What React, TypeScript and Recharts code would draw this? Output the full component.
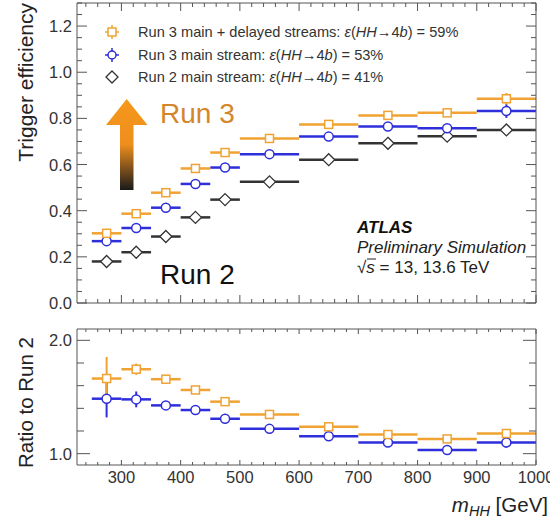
import React from 'react';
import { ComposedChart, Scatter, XAxis, YAxis, ErrorBar } from 'recharts';

// m_HH bins [GeV]
const binCenters = [275, 325, 375, 425, 475, 550, 650, 750, 850, 950];
const binHalfWidths = [25, 25, 25, 25, 25, 50, 50, 50, 50, 50];

// trigger efficiency
const effRun3Delayed = [0.302, 0.387, 0.478, 0.583, 0.652, 0.713, 0.774, 0.813, 0.824, 0.885];
const effRun3DelayedErr = [0.008, 0.008, 0.008, 0.008, 0.008, 0.008, 0.008, 0.01, 0.012, 0.025];
const effRun3Main = [0.268, 0.325, 0.413, 0.516, 0.587, 0.645, 0.721, 0.765, 0.757, 0.832];
const effRun3MainErr = [0.008, 0.008, 0.008, 0.008, 0.008, 0.008, 0.008, 0.01, 0.018, 0.03];
const effRun2Main = [0.18, 0.22, 0.288, 0.371, 0.448, 0.525, 0.621, 0.692, 0.723, 0.75];
const effRun2MainErr = [0.006, 0.006, 0.006, 0.006, 0.006, 0.006, 0.006, 0.008, 0.01, 0.012];

// ratio to Run 2
const ratioRun3Delayed = [1.663, 1.745, 1.657, 1.562, 1.459, 1.346, 1.237, 1.169, 1.13, 1.178];
const ratioRun3DelayedErr = [0.19, 0.05, 0.02, 0.015, 0.015, 0.012, 0.012, 0.015, 0.02, 0.03];
const ratioRun3Main = [1.485, 1.479, 1.426, 1.385, 1.308, 1.219, 1.154, 1.098, 1.033, 1.098];
const ratioRun3MainErr = [0.165, 0.07, 0.02, 0.015, 0.015, 0.012, 0.012, 0.015, 0.02, 0.045];

// axis ticks
const xMajor = [300, 400, 500, 600, 700, 800, 900, 1000];
const xTicks = [240, 260, 280, 300, 320, 340, 360, 380, 400, 420, 440, 460, 480, 500, 520, 540, 560, 580, 600,
  620, 640, 660, 680, 700, 720, 740, 760, 780, 800, 820, 840, 860, 880, 900, 920, 940, 960, 980, 1000];
const effMajor = [0, 0.2, 0.4, 0.6, 0.8, 1.0, 1.2];
const effTicks = [0, 0.05, 0.1, 0.15, 0.2, 0.25, 0.3, 0.35, 0.4, 0.45, 0.5, 0.55, 0.6, 0.65, 0.7, 0.75,
  0.8, 0.85, 0.9, 0.95, 1.0, 1.05, 1.1, 1.15, 1.2, 1.25, 1.3];
const ratioMajor = [1.0, 2.0];
const ratioTicks = [1.0, 1.2, 1.4, 1.6, 1.8, 2.0];

const ORANGE = '#F0A232';
const BLUE = '#2E2EDB';
const BLACK = '#333333';
const FRAME = '#555555';
const FONT = '"Liberation Sans", Arial, Helvetica, sans-serif';

const toPoints = (ys: number[], errs: number[]) =>
  binCenters.map((x, i) => ({ x, y: ys[i], xerr: binHalfWidths[i], yerr: errs[i] }));

const SquareMark = (p: any) => (
  <rect x={p.cx - 4} y={p.cy - 4} width={8} height={8} fill="#fff" stroke={ORANGE} strokeWidth={1.5} />
);
const CircleMark = (p: any) => (
  <circle cx={p.cx} cy={p.cy} r={4.5} fill="#fff" stroke={BLUE} strokeWidth={1.5} />
);
const DiamondMark = (p: any) => (
  <polygon
    points={`${p.cx},${p.cy - 6} ${p.cx + 6},${p.cy} ${p.cx},${p.cy + 6} ${p.cx - 6},${p.cy}`}
    fill="#fff" stroke={BLACK} strokeWidth={1.3}
  />
);

// ROOT style ticks: drawn inside the frame, labels outside
const makeTick = (side: string, majors: number[], majorLen: number, minorLen: number, withLabel: boolean) =>
  (props: any) => {
    const { x, y, payload } = props;
    const v = payload.value;
    const major = majors.includes(v);
    const len = major ? majorLen : minorLen;
    let line = null;
    let label = null;
    if (side === 'left') {
      line = <line x1={x} y1={y} x2={x + len} y2={y} stroke={FRAME} />;
      if (major && withLabel)
        label = <text x={x - 5} y={y + 6} textAnchor="end" fontSize={16.5} fill="#333" fontFamily={FONT}>{v.toFixed(1)}</text>;
    } else if (side === 'right') {
      line = <line x1={x} y1={y} x2={x - len} y2={y} stroke={FRAME} />;
    } else if (side === 'top') {
      line = <line x1={x} y1={y} x2={x} y2={y + len} stroke={FRAME} />;
    } else {
      line = <line x1={x} y1={y} x2={x} y2={y - len} stroke={FRAME} />;
      if (major && withLabel)
        label = <text x={x} y={y + 18} textAnchor="middle" fontSize={16.5} fill="#333" fontFamily={FONT}>{v}</text>;
    }
    return <g>{line}{label}</g>;
  };

const Series = (pts: any[], color: string, shape: any, key: string) => (
  <Scatter key={key} data={pts} dataKey="y" xAxisId="b" yAxisId="l" shape={shape} isAnimationActive={false}>
    <ErrorBar dataKey="xerr" direction="x" width={0} stroke={color} strokeWidth={2.5} isAnimationActive={false} />
    <ErrorBar dataKey="yerr" direction="y" width={0} stroke={color} strokeWidth={2} isAnimationActive={false} />
  </Scatter>
);

const Axes = (domainY: number[], yTicks: number[], yMajor: number[], yMaj: number, yMin: number,
  xMaj: number, xMin: number, xLabels: boolean, bottomH: number) => [
  <XAxis key="xb" xAxisId="b" type="number" dataKey="x" domain={[225, 1000]} allowDataOverflow ticks={xTicks}
    interval={0} orientation="bottom" height={bottomH} tickSize={0} tickMargin={0} tickLine={false}
    axisLine={{ stroke: FRAME }} tick={makeTick('bottom', xMajor, xMaj, xMin, xLabels)} />,
  <XAxis key="xt" xAxisId="t" type="number" dataKey="x" domain={[225, 1000]} allowDataOverflow ticks={xTicks}
    interval={0} orientation="top" height={1} tickSize={0} tickMargin={0} tickLine={false}
    axisLine={{ stroke: FRAME }} tick={makeTick('top', xMajor, xMaj, xMin, false)} />,
  <YAxis key="yl" yAxisId="l" type="number" domain={domainY} allowDataOverflow ticks={yTicks} interval={0}
    orientation="left" width={77} tickSize={0} tickMargin={0} tickLine={false}
    axisLine={{ stroke: FRAME }} tick={makeTick('left', yMajor, yMaj, yMin, true)} />,
  <YAxis key="yr" yAxisId="r" type="number" domain={domainY} allowDataOverflow ticks={yTicks} interval={0}
    orientation="right" width={1} tickSize={0} tickMargin={0} tickLine={false}
    axisLine={{ stroke: FRAME }} tick={makeTick('right', yMajor, yMaj, yMin, false)} />,
];

const LegendMark = ({ y, kind }: { y: number; kind: string }) => {
  const cx = 112;
  if (kind === 'sq')
    return (
      <g stroke={ORANGE} strokeWidth={1.5}>
        <line x1={cx - 7} y1={y} x2={cx + 7} y2={y} />
        <line x1={cx} y1={y - 7} x2={cx} y2={y + 7} />
        <rect x={cx - 4} y={y - 4} width={8} height={8} fill="#fff" />
      </g>
    );
  if (kind === 'ci')
    return (
      <g stroke={BLUE} strokeWidth={1.5}>
        <line x1={cx - 7} y1={y} x2={cx + 7} y2={y} />
        <line x1={cx} y1={y - 7} x2={cx} y2={y + 7} />
        <circle cx={cx} cy={y} r={4} fill="#fff" />
      </g>
    );
  return (
    <polygon points={`${cx},${y - 6} ${cx + 6},${y} ${cx},${y + 6} ${cx - 6},${y}`} fill="#fff" stroke={BLACK} strokeWidth={1.3} />
  );
};

const Eff = ({ val }: { val: string }) => (
  <>
    <tspan fontStyle="italic">ε</tspan>(<tspan fontStyle="italic">HH</tspan>→4<tspan fontStyle="italic">b</tspan>) = {val}
  </>
);

const Overlay = () => (
  <svg width={550} height={519} style={{ position: 'absolute', left: 0, top: 0, pointerEvents: 'none' }}>
    <defs>
      <linearGradient id="arrowGrad" gradientUnits="userSpaceOnUse" x1="0" y1="99" x2="0" y2="190">
        <stop offset="0" stopColor="#F5981A" />
        <stop offset="0.5" stopColor="#EE8E1E" />
        <stop offset="1" stopColor="#1A1A1A" />
      </linearGradient>
    </defs>
    <path d="M126.7 99 L147.5 125 L133.5 125 L133.5 190 L120 190 L120 125 L106 125 Z" fill="url(#arrowGrad)" />
    <g fontFamily={FONT}>
      <text x={160} y={123} fontSize={28} fill="#D4862A">Run 3</text>
      <text x={160} y={284} fontSize={28} fill="#111">Run 2</text>
      <text x={357} y={233} fontSize={17} fontWeight="bold" fontStyle="italic" fill="#111">ATLAS</text>
      <text x={357} y={253} fontSize={17} fontStyle="italic" fill="#222">Preliminary Simulation</text>
      <line x1={367} y1={259} x2={376} y2={259} stroke="#222" strokeWidth={1} />
      <text x={357} y={273} fontSize={17} fill="#222">
        √<tspan fontStyle="italic">s</tspan> = 13, 13.6 TeV
      </text>
      <LegendMark y={32} kind="sq" />
      <LegendMark y={55} kind="ci" />
      <LegendMark y={77} kind="di" />
      <text x={138} y={37} fontSize={14.6} fill="#333">Run 3 main + delayed streams: <Eff val="59%" /></text>
      <text x={138} y={60} fontSize={14.6} fill="#333">Run 3 main stream: <Eff val="53%" /></text>
      <text x={138} y={82} fontSize={14.6} fill="#333">Run 2 main stream: <Eff val="41%" /></text>
      <text transform="translate(33,3) rotate(-90)" textAnchor="end" fontSize={21} fill="#222">Trigger efficiency</text>
      <text transform="translate(33,337) rotate(-90)" textAnchor="end" fontSize={20.5} fill="#222">Ratio to Run 2</text>
      <text x={548} y={512} textAnchor="end" fontSize={20.5} fill="#222">
        <tspan fontStyle="italic">m</tspan>
        <tspan fontStyle="italic" fontSize={14.5} dy={4}>HH</tspan>
        <tspan dy={-4}> [GeV]</tspan>
      </text>
    </g>
  </svg>
);

export default function App() {
  return (
    <div style={{ position: 'absolute', left: 0, top: 0, width: 550, height: 519, background: '#fff', fontFamily: FONT }}>
      <div style={{ position: 'absolute', left: 0, top: 0 }}>
        <ComposedChart width={550} height={318} margin={{ top: 2, right: 13, bottom: 1, left: 0 }}>
          {Axes([0, 1.3], effTicks, effMajor, 10, 5, 8, 4, false, 14)}
          {Series(toPoints(effRun2Main, effRun2MainErr), BLACK, DiamondMark, 'r2')}
          {Series(toPoints(effRun3Main, effRun3MainErr), BLUE, CircleMark, 'r3m')}
          {Series(toPoints(effRun3Delayed, effRun3DelayedErr), ORANGE, SquareMark, 'r3d')}
        </ComposedChart>
      </div>
      <div style={{ position: 'absolute', left: 0, top: 310 }}>
        <ComposedChart width={550} height={209} margin={{ top: 18, right: 13, bottom: 24, left: 0 }}>
          {Axes([0.9, 2.1], ratioTicks, ratioMajor, 13, 7, 5, 3, true, 30)}
          {Series(toPoints(ratioRun3Main, ratioRun3MainErr), BLUE, CircleMark, 'q3m')}
          {Series(toPoints(ratioRun3Delayed, ratioRun3DelayedErr), ORANGE, SquareMark, 'q3d')}
        </ComposedChart>
      </div>
      <Overlay />
    </div>
  );
}
